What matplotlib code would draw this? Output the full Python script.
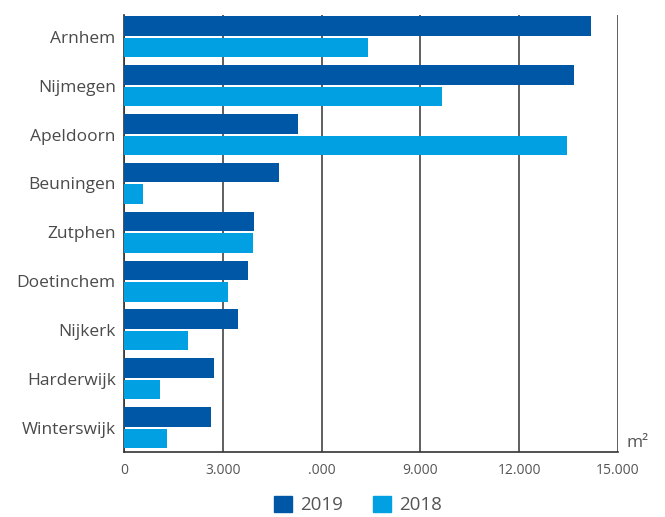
import matplotlib
matplotlib.use("Agg")
import matplotlib.pyplot as plt
from matplotlib.patches import Patch

cities = ["Arnhem", "Nijmegen", "Apeldoorn", "Beuningen", "Zutphen",
          "Doetinchem", "Nijkerk", "Harderwijk", "Winterswijk"]
v2019 = [14170, 13670, 5290, 4720, 3960, 3750, 3470, 2740, 2650]
v2018 = [7400, 9670, 13440, 590, 3930, 3170, 1950, 1100, 1320]
xticks = [0, 3000, 6000, 9000, 12000, 15000]
xticklabels = ["0", "3.000", ".000", "9.000", "12.000", "15.000"]

c2019 = "#0057a6"
c2018 = "#00a0e2"
txt = "#555555"
plt.rcParams['font.family'] = ['Open Sans', 'DejaVu Sans']

fig = plt.figure(figsize=(6.65, 5.17), dpi=100)
ax = fig.add_axes([124/665, 1-452/517, (618-124)/665, (452-15)/517])

ys = list(range(len(cities)))
h = 0.40
ax.barh([y - 0.22 for y in ys], v2019, height=h, color=c2019, zorder=3)
ax.barh([y + 0.22 for y in ys], v2018, height=h, color=c2018, zorder=3)

ax.set_xlim(0, 15000)
ax.set_ylim(8.5, -0.45)
ax.set_xticks(xticks)
ax.set_xticklabels(xticklabels, fontsize=10, color=txt)
ax.set_yticks(ys)
ax.set_yticklabels(cities, fontsize=12.5, color="#4a4a4a")
ax.tick_params(axis='both', length=0)
ax.tick_params(axis='x', pad=8)
ax.tick_params(axis='y', pad=6)
ax.grid(axis='x', color="#444444", linewidth=1.2, zorder=1)
for s in ["top", "right"]:
    ax.spines[s].set_visible(False)
ax.spines["left"].set_color("#333333")
ax.spines["left"].set_linewidth(1.2)
ax.spines["bottom"].set_color("#333333")
ax.spines["bottom"].set_linewidth(1.2)

fig.text(626/665, 1-443/517, "m²", fontsize=12.5, color=txt, ha='left', va='center')

handles = [Patch(color=c2019, label="2019"), Patch(color=c2018, label="2018")]
fig.legend(handles=handles, loc='center', bbox_to_anchor=(358/665, 1-505/517),
           ncol=2, frameon=False, fontsize=13.5, handlelength=0.95, handleheight=0.95,
           columnspacing=1.6, handletextpad=0.45, labelcolor=txt)

fig.savefig("out.png", dpi=100)
